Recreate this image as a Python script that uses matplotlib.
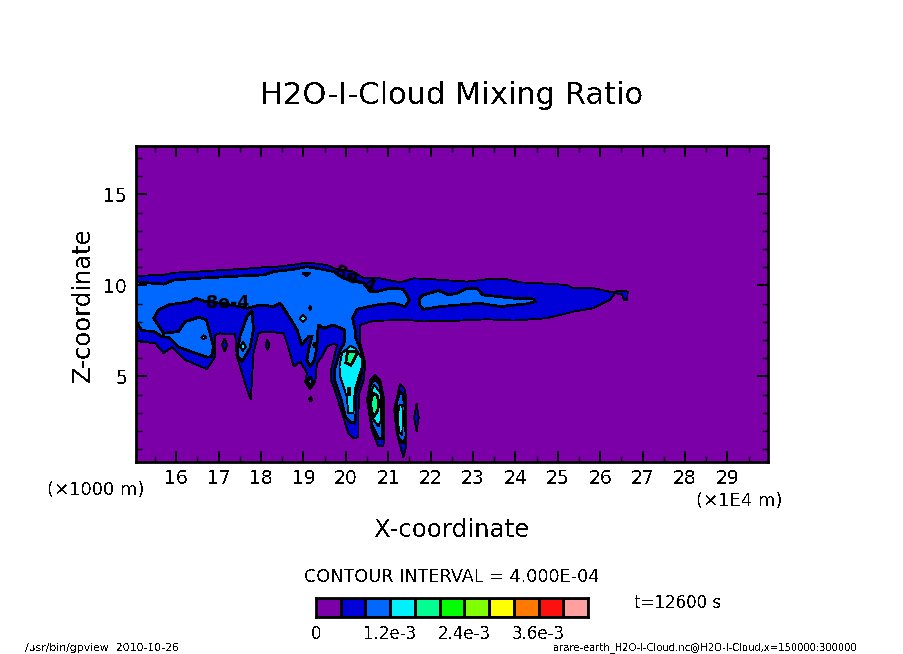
import numpy as np
import matplotlib
matplotlib.use("Agg")
import matplotlib.pyplot as plt
from matplotlib.colors import ListedColormap, BoundaryNorm

plt.rcParams['font.family'] = ['DejaVu Sans']
plt.rcParams['text.antialiased'] = False

#%% values
# contour levels and shading
levels = [0, 4e-4, 8e-4, 1.2e-3, 1.6e-3, 2.0e-3, 2.4e-3, 2.8e-3, 3.2e-3, 3.6e-3, 4.0e-3, 4.4e-3]
level_colors = ['#7c00a8', '#0000d8', '#0068ff', '#00f0ff', '#00ff90', '#00ff00',
                '#80ff00', '#ffff00', '#ff7800', '#ff1010', '#ff9fa0']
cbar_ticks = [0, 1.2e-3, 2.4e-3, 3.6e-3]
cbar_labels = ['0', '1.2e-3', '2.4e-3', '3.6e-3']
x_major = [16, 17, 18, 19, 20, 21, 22, 23, 24, 25, 26, 27, 28, 29]
z_major = [5, 10, 15]

# contour outlines, x in 1E4 m, z in 1000 m
# 4e-4
main4_x = [15.0, 15.70, 15.94, 16.49, 17.12, 17.59, 18.06, 18.37, 18.77, 19.08, 19.40, 19.63, 19.71, 20.18,
           20.42, 20.81, 21.28, 21.60, 22.07, 22.46, 22.86, 23.33, 23.80, 24.11, 24.58, 25.21, 25.37, 25.84,
           26.27, 26.51, 26.65, 26.64, 26.57, 26.51, 26.35, 26.23, 25.84, 25.37, 24.74, 23.96, 23.33, 22.70,
           21.83, 21.44, 20.65, 20.34,
           20.34, 20.38, 20.46, 20.42, 20.32, 20.30, 20.30, 20.18, 20.06, 19.91, 19.75, 19.65, 19.65, 19.71,
           19.79, 19.71,
           19.55, 19.44, 19.32, 19.28, 19.16, 19.04, 19.08, 18.93, 18.77, 18.61, 18.53,
           18.06, 17.94, 17.82, 17.76, 17.67, 17.43, 17.41, 17.39, 17.17, 17.04, 16.92, 16.92, 16.72, 16.21,
           15.90, 15.70, 15.50, 15.0]
main4_z = [10.52, 10.58, 10.70, 10.76, 10.85, 10.91, 11.00, 11.03, 11.14, 11.25, 11.18, 11.07, 10.94, 10.76,
           10.39, 10.39, 10.17, 10.39, 10.34, 10.27, 10.21, 10.34, 10.34, 10.17, 10.12, 10.03, 9.85, 9.85,
           9.63, 9.72, 9.66, 9.20, 9.17, 9.52, 9.57, 9.20, 8.75, 8.56, 8.20, 8.07, 8.14, 8.07,
           8.02, 8.11, 8.05, 7.83,
           6.82, 6.46, 5.72, 4.81, 4.08, 3.16, 1.66, 1.61, 1.88, 2.98, 4.17, 4.81, 5.36, 5.91,
           6.73, 6.79,
           6.64, 6.09, 5.73, 4.72, 4.30, 4.72, 5.18, 5.82, 5.54, 6.83, 7.38,
           7.47, 7.38, 6.28, 3.72, 4.27, 6.09, 6.64, 7.34, 7.30, 7.37, 7.28, 6.09, 5.40, 5.91,
           6.61, 6.28, 6.83, 6.95]
lens_a_x = [17.14, 17.08, 17.14, 17.20]
lens_a_z = [7.10, 6.73, 6.37, 6.73]
lens_b_x = [18.15, 18.11, 18.15, 18.20]
lens_b_z = [7.01, 6.73, 6.46, 6.73]
speck_x = [19.17, 19.13, 19.17, 19.21]
speck_z = [3.86, 3.75, 3.62, 3.75]
blob_a4_x = [20.69, 20.58, 20.50, 20.61, 20.77, 20.89, 20.91, 20.81]
blob_a4_z = [5.08, 4.81, 3.71, 2.07, 1.15, 1.19, 3.71, 4.81]
blob_b4_x = [21.28, 21.19, 21.14, 21.20, 21.36, 21.42, 21.42, 21.38]
blob_b4_z = [4.59, 3.71, 3.16, 1.88, 0.55, 1.15, 3.89, 4.35]
blob_c4_x = [21.67, 21.61, 21.67, 21.72]
blob_c4_z = [3.49, 2.76, 1.97, 2.76]

# 8e-4
main8_x = [15.0, 15.70, 15.94, 16.49, 17.27, 18.06, 18.30, 18.77, 19.08, 19.32, 19.71, 19.95, 20.42, 20.58,
           20.73, 21.05, 21.36, 21.50, 21.40, 21.13, 20.73, 20.26, 20.16, 20.22,
           20.22, 20.32, 20.42, 20.40, 20.34, 20.24, 20.24, 20.21, 20.10, 19.99, 19.87, 19.73, 19.73, 19.79,
           19.87, 19.96, 19.97,
           19.71, 19.48, 19.36, 19.33, 19.32, 19.26, 19.16, 19.08, 19.12, 19.20, 19.12, 18.96, 18.85, 18.61,
           18.45, 18.30, 17.98, 17.67, 17.27, 16.80,
           16.68, 16.45, 16.33, 15.82, 15.58, 15.47, 15.70, 16.05, 16.21, 16.53, 16.71, 16.88, 16.83, 16.72,
           16.05, 15.82, 15.66, 15.47, 15.19, 15.0]
main8_z = [10.21, 10.07, 10.30, 10.39, 10.49, 10.58, 10.76, 10.89, 11.03, 10.94, 10.76, 10.39, 10.12, 9.66,
           9.66, 9.85, 9.79, 9.20, 8.84, 9.02, 8.93, 8.69, 8.20, 7.56,
           7.19, 6.64, 6.00, 5.72, 4.81, 4.08, 2.98, 2.43, 2.49, 2.80, 3.89, 4.81, 5.36, 5.82,
           6.46, 6.82, 7.55,
           7.83, 7.65, 7.83, 7.38, 6.64, 5.91, 5.54, 5.91, 6.46, 7.19, 7.19, 6.73, 7.56, 8.47,
           9.02, 8.84, 8.93, 8.75, 8.93, 9.11,
           9.11, 9.30, 9.11, 8.93, 8.66, 8.20, 7.37, 7.47, 8.01, 8.25, 8.11, 6.64, 6.09, 6.06,
           6.61, 7.15, 7.19, 7.47, 7.52, 8.15]
lobe8_x = [17.76, 17.67, 17.51, 17.43, 17.55, 17.74, 17.82, 17.79]
lobe8_z = [8.56, 8.29, 7.28, 6.18, 5.82, 6.55, 7.56, 8.56]
tail8_x = [21.74, 21.83, 22.19, 22.42, 22.62, 22.86, 23.09, 23.23, 23.96, 24.43, 24.47, 24.27, 23.64, 23.17,
           22.70, 22.23, 21.83, 21.74]
tail8_z = [9.30, 9.48, 9.72, 9.48, 9.57, 9.85, 9.85, 9.48, 9.30, 9.26, 9.11, 8.99, 8.84, 9.02,
           8.93, 8.84, 8.69, 8.93]
knot8_x = [19.16, 19.10, 19.16, 19.22]
knot8_z = [5.00, 4.72, 4.45, 4.72]
dot8_x = [19.24, 19.26, 19.29, 19.26]
dot8_z = [6.73, 6.82, 6.73, 6.64]
blob_a8_x = [20.69, 20.58, 20.52, 20.61, 20.77, 20.87, 20.85, 20.80]
blob_a8_z = [4.90, 4.54, 3.71, 2.34, 1.61, 1.61, 3.71, 4.54]
blob_b8_x = [21.28, 21.20, 21.19, 21.24, 21.36, 21.42, 21.40, 21.35]
blob_b8_z = [4.17, 3.62, 2.43, 1.60, 1.33, 1.70, 3.25, 3.99]

# 4e-4 pockets sitting inside the 8e-4 area
hole_a_x = [18.98, 19.16, 19.07]
hole_a_z = [10.67, 10.67, 10.52]
hole_b_x = [19.16, 19.14, 19.16, 19.18]
hole_b_z = [8.88, 8.75, 8.62, 8.75]

# 1.2e-3
plume12_x = [20.10, 19.91, 19.85, 19.87, 20.02, 20.06, 20.18, 20.21, 20.38, 20.38, 20.22]
plume12_z = [6.68, 6.27, 5.54, 4.99, 3.90, 2.98, 2.98, 4.26, 5.54, 6.00, 6.55]
lobe12_x = [17.57, 17.51, 17.57, 17.64]
lobe12_z = [6.91, 6.64, 6.40, 6.64]
left12_x = [16.64, 16.59, 16.64, 16.71]
left12_z = [7.26, 7.15, 7.04, 7.15]
mid12_x = [18.99, 18.91, 18.99, 19.07]
mid12_z = [8.38, 8.20, 7.98, 8.20]
blob_a12_x = [20.67, 20.57, 20.60, 20.77, 20.83, 20.82]
blob_a12_z = [4.54, 4.00, 2.80, 2.25, 2.61, 4.08]
blob_b12_x = [21.27, 21.23, 21.25, 21.33, 21.35, 21.33]
blob_b12_z = [3.44, 2.98, 1.97, 1.79, 2.80, 3.44]

# 1.6e-3
plume16_x = [20.04, 20.00, 20.12, 20.25, 20.25]
plume16_z = [6.35, 5.75, 5.62, 6.18, 6.38]
plume16b_x = [20.04, 20.10, 20.10, 20.04]
plume16b_z = [4.35, 4.35, 3.99, 3.99]
blob_a16_x = [20.64, 20.58, 20.64, 20.75, 20.78, 20.74]
blob_a16_z = [4.10, 3.50, 2.75, 3.10, 3.60, 3.95]

# (level index, x, z), drawn from low to high
regions = [
    (1, main4_x, main4_z), (1, lens_a_x, lens_a_z), (1, lens_b_x, lens_b_z), (1, speck_x, speck_z),
    (1, blob_a4_x, blob_a4_z), (1, blob_b4_x, blob_b4_z), (1, blob_c4_x, blob_c4_z),
    (2, main8_x, main8_z), (2, lobe8_x, lobe8_z), (2, tail8_x, tail8_z), (2, knot8_x, knot8_z),
    (2, dot8_x, dot8_z), (2, blob_a8_x, blob_a8_z), (2, blob_b8_x, blob_b8_z),
    (1, hole_a_x, hole_a_z), (1, hole_b_x, hole_b_z),
    (3, plume12_x, plume12_z), (3, lobe12_x, lobe12_z), (3, left12_x, left12_z), (3, mid12_x, mid12_z),
    (3, blob_a12_x, blob_a12_z), (3, blob_b12_x, blob_b12_z),
    (4, plume16_x, plume16_z), (4, plume16b_x, plume16b_z), (4, blob_a16_x, blob_a16_z),
]

W, H = 904, 654

def put_text(px, py, s, size, **kw):
    # place text by pixel position in the figure
    fig.text(px / W, 1 - py / H, s, fontsize=size, ha=kw.pop('ha', 'center'), va='center', **kw)

#%% main panel
fig = plt.figure(figsize=(W / 100, H / 100), dpi=100)
ax = fig.add_axes([136 / W, 1 - 462 / H, 632 / W, 316 / H])
ax.set_facecolor(level_colors[0])

for lev, xs, zs in regions:
    # every second level has the heavy line
    lw = 1.25 if lev % 2 == 0 else 0.6
    ax.fill(xs, zs, facecolor=level_colors[lev], edgecolor='k', linewidth=lw, antialiased=False)

ax.text(17.21, 9.06, '8e-4', fontsize=12.5, fontweight='bold', ha='center', va='center', color='k', antialiased=True)
ax.text(20.22, 10.30, '8e-4', fontsize=12.5, fontweight='bold', ha='center', va='center', color='k', rotation=-25,
        rotation_mode='anchor', antialiased=True)

ax.set_xlim(15.05, 29.96)
ax.set_ylim(0.30, 17.66)
ax.set_xticks(x_major)
ax.set_xticks(np.arange(15.5, 30, 1), minor=True)
ax.set_yticks(z_major)
ax.set_yticks(np.arange(1, 18), minor=True)
ax.tick_params(which='major', direction='in', top=True, right=True, length=8, width=1.4, labelsize=13.5)
ax.tick_params(axis='x', which='major', pad=5)
ax.tick_params(axis='y', which='major', pad=6.5)
ax.tick_params(which='minor', direction='in', top=True, right=True, length=4, width=1)
for sp in ax.spines.values():
    sp.set_linewidth(2)

#%% colour bar
cax = fig.add_axes([316 / W, 1 - 617 / H, 272 / W, 19 / H])
cmap = ListedColormap(level_colors)
norm = BoundaryNorm(levels, cmap.N)
cax.pcolormesh(levels, [0, 1], np.array(levels[:-1]).reshape(1, -1), cmap=cmap, norm=norm,
               edgecolors='k', linewidth=1, antialiased=False)
cax.set_yticks([])
cax.set_xticks(cbar_ticks)
cax.set_xticklabels(cbar_labels)
cax.tick_params(axis='x', length=0, labelsize=12, pad=6)
for sp in cax.spines.values():
    sp.set_linewidth(2)

#%% texts
put_text(452, 95, 'H2O-I-Cloud Mixing Ratio', 22)
put_text(452, 530, 'X-coordinate', 17.6)
put_text(83, 305, 'Z-coordinate', 17.5, rotation=90)
put_text(96, 490, '(×1000 m)', 13)
put_text(739, 501, '(×1E4 m)', 13)
put_text(452, 577, 'CONTOUR INTERVAL = 4.000E-04', 12.7)
put_text(678, 603, 't=12600 s', 12)
put_text(25, 648, '/usr/bin/gpview  2010-10-26', 7.8, ha='left')
put_text(553, 648, 'arare-earth_H2O-I-Cloud.nc@H2O-I-Cloud,x=150000:300000', 7.2, ha='left')

fig.savefig('out.png', dpi=100)
